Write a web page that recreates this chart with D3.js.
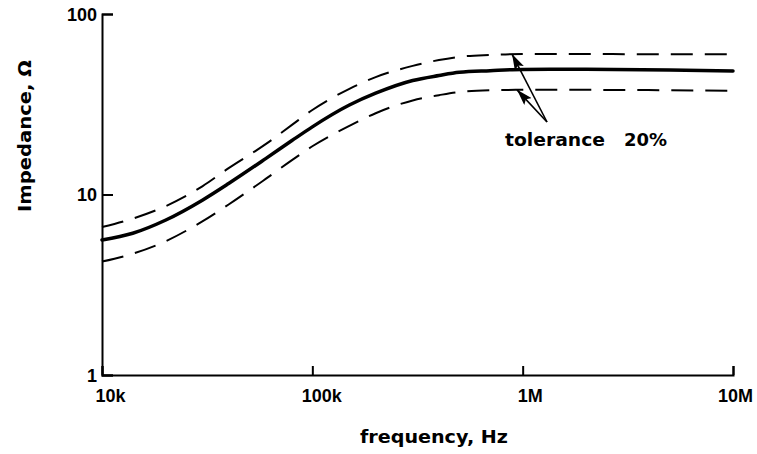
<!DOCTYPE html>
<html>
<head>
<meta charset="utf-8">
<script src="https://cdn.jsdelivr.net/npm/d3@7"></script>
<style>
  html, body { margin: 0; padding: 0; background: #fff; }
  svg { display: block; }
  text { font-family: "Liberation Sans", Arial, sans-serif; fill: #000; }
  .title { font-family: "DejaVu Sans", "Liberation Sans", sans-serif; font-weight: bold; font-size: 18px; }
</style>
</head>
<body>
<svg id="chart" width="757" height="454"></svg>
<script>
// Impedance vs. frequency with a tolerance band
const frequencies = [1e4, 1.4e4, 2e4, 3e4, 4e4, 6e4, 8e4, 1e5, 1.5e5, 2e5, 3e5, 4e5, 5e5, 7e5, 1e6, 2e6, 5e6, 1e7];
const nominal = [5.6, 6.1, 7.2, 9.3, 11.5, 15.8, 19.9, 23.7, 31.3, 36.4, 42.8, 45.6, 47.5, 48.5, 49.3, 49.4, 49.0, 48.3];
const upperLimit = [6.6, 7.35, 8.6, 11.1, 14.0, 19.0, 24.3, 29.4, 38.5, 44.7, 51.6, 55.6, 57.9, 59.3, 60.0, 60.0, 59.8, 59.8];
const lowerLimit = [4.25, 4.7, 5.5, 7.1, 8.8, 12.2, 15.5, 18.5, 24.0, 28.2, 33.2, 35.5, 37.0, 37.8, 38.0, 38.0, 37.8, 37.6];

const xTickValues = [1e4, 1e5, 1e6, 1e7];
const xTickLabels = ["10k", "100k", "1M", "10M"];
const yTickValues = [1, 10, 100];
const yTickLabels = ["1", "10", "100"];

const xTitle = "frequency, Hz";
const yTitle = "Impedance, \u03A9";
const noteWord = "tolerance";
const noteValue = "20%";
// frequencies where the two note arrows touch the upper and lower limits
const noteTipFreqs = [8.9e5, 9.4e5];
const noteTipValues = [60.0, 38.0];

const svg = d3.select("#chart");

const x = d3.scaleLog().domain([1e4, 1e7]).range([102, 733]);
const y = d3.scaleLog().domain([1, 100]).range([375, 14]);

// axes
const xAxis = d3.axisBottom(x)
  .tickValues(xTickValues)
  .tickFormat((d, i) => xTickLabels[i])
  .tickSizeInner(-9)
  .tickSizeOuter(-9);

const gx = svg.append("g")
  .attr("transform", `translate(0,${y(1)})`)
  .call(xAxis);

const labelShift = [8, 9, 7, 2];
gx.selectAll(".tick text")
  .attr("y", 27)
  .attr("dy", 0)
  .attr("dx", (d, i) => labelShift[i])
  .style("font-size", "18px")
  .style("font-weight", "bold");

const yAxis = d3.axisLeft(y)
  .tickValues(yTickValues)
  .tickFormat((d, i) => yTickLabels[i])
  .tickSizeInner(-11)
  .tickSizeOuter(-11)
  .tickPadding(5);

const gy = svg.append("g")
  .attr("transform", `translate(${x(1e4)},0)`)
  .call(yAxis);

gy.selectAll(".tick text")
  .attr("dy", "0.36em")
  .style("font-size", "18px")
  .style("font-weight", "bold");

svg.selectAll(".domain, .tick line")
  .attr("stroke", "#000")
  .attr("stroke-width", 2);

// curves
const pts = vals => frequencies.map((f, i) => [x(f), y(vals[i])]);
const line = d3.line().curve(d3.curveMonotoneX);

[upperLimit, lowerLimit].forEach(vals => {
  svg.append("path")
    .attr("d", line(pts(vals)))
    .attr("fill", "none")
    .attr("stroke", "#000")
    .attr("stroke-width", 2)
    .attr("stroke-dasharray", "22,12");
});

svg.append("path")
  .attr("d", line(pts(nominal)))
  .attr("fill", "none")
  .attr("stroke", "#000")
  .attr("stroke-width", 3.5)
  .attr("stroke-linecap", "round");

// annotation arrows pointing at the two limits
svg.append("defs").append("marker")
  .attr("id", "head")
  .attr("viewBox", "0 0 16 10")
  .attr("refX", 16)
  .attr("refY", 5)
  .attr("markerWidth", 16)
  .attr("markerHeight", 10)
  .attr("markerUnits", "userSpaceOnUse")
  .attr("orient", "auto")
  .append("path")
  .attr("d", "M0,0 L16,5 L0,10 L3,5 Z")
  .attr("fill", "#000");

const tail = [547, 122];
noteTipFreqs.forEach((f, i) => {
  svg.append("line")
    .attr("x1", tail[0]).attr("y1", tail[1])
    .attr("x2", x(f)).attr("y2", y(noteTipValues[i]))
    .attr("stroke", "#000")
    .attr("stroke-width", 1.6)
    .attr("marker-end", "url(#head)");
});

svg.append("text")
  .attr("class", "title")
  .attr("x", 505).attr("y", 146)
  .attr("textLength", 100)
  .attr("lengthAdjust", "spacingAndGlyphs")
  .text(noteWord);

svg.append("text")
  .attr("class", "title")
  .attr("x", 624).attr("y", 146)
  .attr("textLength", 43)
  .attr("lengthAdjust", "spacingAndGlyphs")
  .text(noteValue);

// axis titles
svg.append("text")
  .attr("class", "title")
  .attr("x", 360).attr("y", 443)
  .attr("textLength", 148)
  .attr("lengthAdjust", "spacingAndGlyphs")
  .text(xTitle);

svg.append("text")
  .attr("class", "title")
  .attr("transform", "translate(31,212) rotate(-90)")
  .attr("textLength", 152)
  .attr("lengthAdjust", "spacingAndGlyphs")
  .text(yTitle);
</script>
</body>
</html>
